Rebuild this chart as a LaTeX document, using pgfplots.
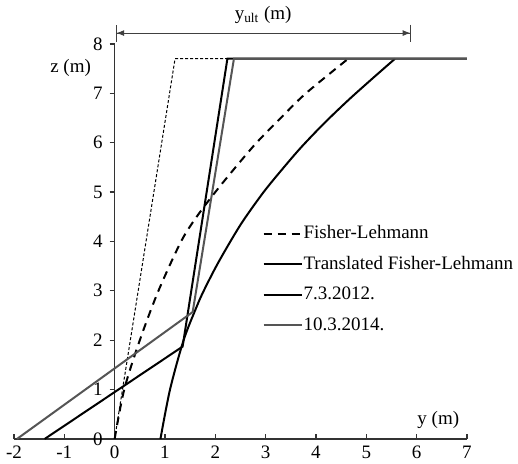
\documentclass[border=0pt]{standalone}
\usepackage{fontspec}
\setmainfont{Liberation Serif}
\usepackage{pgfplots}
\pgfplotsset{compat=1.18}
\usetikzlibrary{arrows.meta}
\definecolor{grayline}{RGB}{85,85,85}
\newcommand{\chartfont}{\fontsize{9.5}{11}\selectfont}
\begin{document}
\begin{tikzpicture}
\begin{axis}[
  scale only axis, width=226.5pt, height=197.5pt,
  xmin=-2, xmax=7, ymin=0, ymax=8,
  axis lines=middle,
  axis line style={-, black!80, line width=0.6pt},
  xtick={-2,-1,0,1,2,3,4,5,6,7}, ytick={0,1,2,3,4,5,6,7,8},
  hide obscured x ticks=false, hide obscured y ticks=false,
  xtick align=inside, ytick align=outside, major tick length=2.5pt,
  tick style={black!80, line width=0.6pt},
  /pgf/number format/assume math mode=true,
  font=\chartfont,
  ticklabel style={font=\chartfont},
  clip=false,
  legend style={draw=none, fill=none, at={(axis cs:2.93,4.37)}, anchor=north west,
    inner sep=0pt, row sep=5.3pt,
    nodes={inner sep=0.5pt, text height=7pt, text depth=2pt, font=\chartfont}},
  legend cell align=left,
  legend image code/.code={\draw[#1] (0pt,0pt) -- (19pt,0pt);},
]
% thin short-dashed line (not in legend)
\addplot[black, line width=0.5pt, dash pattern=on 1.5pt off 1pt, forget plot]
  coordinates {(0,0) (1.2,7.7) (2.25,7.7)};
% Fisher-Lehmann
\addplot[black, line width=1pt, dash pattern=on 4pt off 3pt, smooth]
  coordinates {(0,0) (0.19,1) (0.5,2) (0.87,3) (1.32,4) (1.63,4.5) (2.0,5) (2.4,5.5) (2.82,6) (3.3,6.5) (3.8,7) (4.64,7.7)};
\addlegendentry{Fisher-Lehmann}
% Translated Fisher-Lehmann
\addplot[black, line width=1pt, smooth]
  coordinates {(0.91,0) (1.1,1) (1.37,2) (1.63,2.68) (1.77,3) (2.02,3.5) (2.3,4) (2.56,4.43) (2.96,5) (3.32,5.45) (3.7,5.9) (4.15,6.38) (4.63,6.85) (5.1,7.28) (5.57,7.7)};
\addlegendentry{Translated Fisher-Lehmann}
% 7.3.2012
\addplot[black, line width=1pt]
  coordinates {(-1.39,0) (1.35,1.87) (2.24,7.7) (7,7.7)};
\addlegendentry{7.3.2012.}
% 10.3.2014
\addplot[grayline, line width=1pt]
  coordinates {(-1.94,0) (1.55,2.57) (2.37,7.7) (7,7.7)};
\addlegendentry{10.3.2014.}

\draw[black!75, line width=0.5pt, {Bar[width=8.5pt]}-{Bar[width=8.5pt]}] (axis cs:0.03,8.22) -- (axis cs:5.88,8.22);
\draw[black!75, line width=0.5pt, {Latex[length=4pt,width=3pt]}-{Latex[length=4pt,width=3pt]}] (axis cs:0.03,8.22) -- (axis cs:5.88,8.22);
\node at (axis cs:2.95,8.58) {y\textsubscript{ult} (m)};
\node at (axis cs:-0.875,7.51) {z (m)};
\node at (axis cs:6.43,0.38) {y (m)};

\coordinate (bbl) at (axis cs:-2.278,-0.506);
\coordinate (btr) at (axis cs:8.014,8.89);
\end{axis}
\pgfresetboundingbox
\path[use as bounding box] (bbl) rectangle (btr);
\end{tikzpicture}
\end{document}
